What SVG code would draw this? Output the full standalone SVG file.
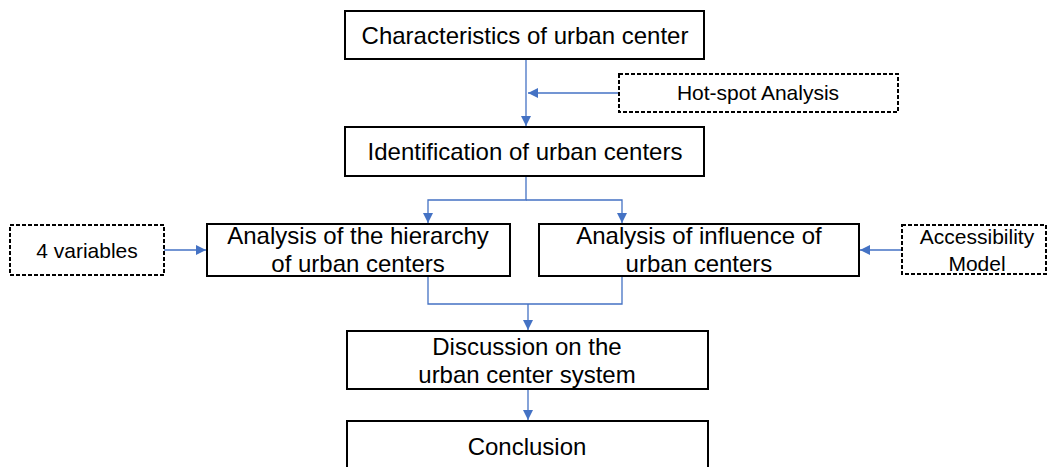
<svg xmlns="http://www.w3.org/2000/svg" width="1050" height="467" viewBox="0 0 1050 467">
<defs>
<marker id="ah" viewBox="0 0 10 10" refX="10" refY="5" markerWidth="10" markerHeight="10" markerUnits="userSpaceOnUse" orient="auto">
<path d="M0,0 L10,5 L0,10 z" fill="#4472C4"/>
</marker>
<style>
.box{fill:#fff;stroke:#000;stroke-width:2}
.dbox{fill:#fff;stroke:#000;stroke-width:2;stroke-dasharray:4 2}
.t{font-family:"Liberation Sans",Arial,sans-serif;font-size:24px;fill:#000;text-anchor:middle}
.s{font-family:"Liberation Sans",Arial,sans-serif;font-size:21px;fill:#000;text-anchor:middle}
.c{fill:none;stroke:#4472C4;stroke-width:1.3}
</style>
</defs>
<rect width="1050" height="467" fill="#fff"/>
<g id="connectors">
<path class="c" d="M526,59 V126" marker-end="url(#ah)"/>
<path class="c" d="M619,93 H528" marker-end="url(#ah)"/>
<path class="c" d="M526,176 V200 H428 V223"  marker-end="url(#ah)"/>
<path class="c" d="M526,200 H622 V223" marker-end="url(#ah)"/>
<path class="c" d="M164,250 H206" marker-end="url(#ah)"/>
<path class="c" d="M902,250 H860" marker-end="url(#ah)"/>
<path class="c" d="M428,276 V304 H622 V276"/>
<path class="c" d="M528,304 V330" marker-end="url(#ah)"/>
<path class="c" d="M528,389 V420" marker-end="url(#ah)"/>
</g>
<g id="n1"><rect class="box" x="345" y="11" width="359" height="48"/><text class="t" x="525" y="44">Characteristics of urban center</text></g>
<g id="n_hot"><rect class="dbox" x="619" y="74" width="279" height="38"/><text class="s" x="758" y="100">Hot-spot Analysis</text></g>
<g id="n2"><rect class="box" x="345" y="127" width="359" height="49"/><text class="t" x="525" y="160">Identification of urban centers</text></g>
<g id="n_var"><rect class="dbox" x="10" y="225" width="154" height="50"/><text class="s" x="87" y="258">4 variables</text></g>
<g id="n3"><rect class="box" x="207" y="224" width="303" height="52"/><text class="t" x="358" y="244">Analysis of the hierarchy</text><text class="t" x="358" y="272">of urban centers</text></g>
<g id="n4"><rect class="box" x="539" y="224" width="320" height="52"/><text class="t" x="699" y="244">Analysis of influence of</text><text class="t" x="699" y="272">urban centers</text></g>
<g id="n_acc"><rect class="dbox" x="902" y="225" width="144" height="49"/><text class="s" x="977" y="244">Accessibility</text><text class="s" x="977" y="271">Model</text></g>
<g id="n5"><rect class="box" x="347" y="331" width="361" height="58"/><text class="t" x="527" y="355">Discussion on the</text><text class="t" x="527" y="383">urban center system</text></g>
<g id="n6"><rect class="box" x="347" y="421" width="361" height="60"/><text class="t" x="527" y="455">Conclusion</text></g>
</svg>
